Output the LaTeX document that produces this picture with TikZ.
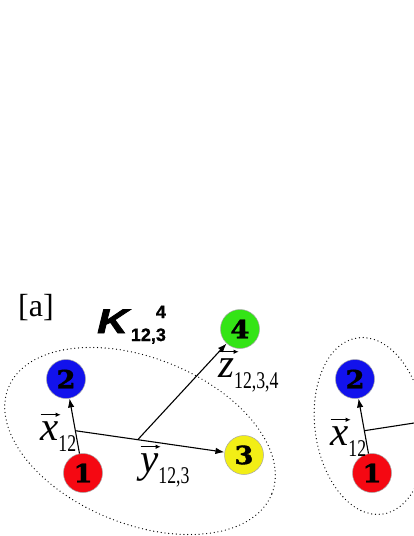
\documentclass[tikz,border=0pt]{standalone}
\usepackage{fontspec}
\usepackage{graphicx}
\usetikzlibrary{arrows.meta,calc}
\setmainfont{Liberation Serif}
\newfontfamily\mainf{Liberation Serif}
\newfontfamily\subf{Liberation Serif}[FakeStretch=0.74]
\newfontfamily\kfont{Liberation Sans}[
  BoldItalicFeatures={FakeStretch=1.25,FakeBold=2.5}]
\newfontfamily\ksub{Liberation Sans}[BoldFeatures={FakeBold=1}]
\newfontfamily\numf{DejaVu Serif}[BoldFeatures={FakeBold=1.5,FakeStretch=1.1}]
\definecolor{cred}{RGB}{245,8,18}
\definecolor{cblue}{RGB}{18,18,236}
\definecolor{cyellow}{RGB}{242,238,22}
\definecolor{cgreen}{RGB}{52,228,22}
\newcommand\vlab[2]{\rlap{\raisebox{23pt}{\tikz\draw[-{Latex[length=5pt,width=4.5pt]},line width=0.9pt] (0pt,0pt) -- (20pt,0pt);}}{\mainf\fontsize{41}{41}\selectfont\itshape #1}\raisebox{-11pt}{\subf\fontsize{24}{24}\selectfont #2}}
\tikzset{
  ball/.style={circle, draw=gray!70, line width=0.5pt, minimum size=39pt, inner sep=0pt,
    font=\numf\bfseries\fontsize{25}{25}\selectfont},
  vec/.style={-{Latex[length=9pt,width=6.5pt]}, line width=1.1pt},
  plain/.style={line width=1.1pt},
  dotline/.style={line width=1.3pt, dash pattern=on 0pt off 3.8pt, line cap=round},
  lbl/.style={anchor=base west, inner sep=0pt}
}
\begin{document}
\begin{tikzpicture}[x=1pt,y=-1pt]
\useasboundingbox (0,0) rectangle (414,536);
% panel a
\coordinate (ec) at (140,441);
\draw[dotline, rotate around={-22:(ec)}] (ec) ellipse [x radius=142, y radius=83];
\node[ball, fill=cblue] (n2) at (66,379) {2};
\node[ball, fill=cred] (n1) at (83,473) {1};
\node[ball, fill=cyellow] (n3) at (244,455) {3};
\node[ball, fill=cgreen] (n4) at (240,329) {4};
\draw[vec] (n1) -- (n2);
\coordinate (j1) at ($(n1)!0.45!(n2)$);
\draw[vec] (j1) -- (n3);
\coordinate (j2) at ($(j1)!0.37!(n3)$);
\draw[vec] (j2) -- (n4);
\node[lbl] (la) at (18,316) {\fontsize{32}{32}\selectfont [a]};
\node[lbl] (kl) at (97,333) {\fontsize{34}{34}\selectfont\kfont\bfseries\itshape K\hspace{3pt}\raisebox{-8pt}{\ksub\bfseries\upshape\fontsize{18}{18}\selectfont 12,3}\llap{\raisebox{15pt}{\ksub\bfseries\upshape\fontsize{18}{18}\selectfont 4}}};
\node[lbl] (lx) at (40,440) {\vlab{x}{12}};
\node[lbl] (ly) at (140,472) {\vlab{y}{12,3}};
\node[lbl] (lz) at (218,377) {\vlab{z}{12,3,4}};
% panel b (cut)
\coordinate (ec2) at (370,426);
\draw[dotline, rotate around={8:(ec2)}] (ec2) ellipse [x radius=55, y radius=89];
\node[ball, fill=cblue] (m2) at (355,379) {2};
\node[ball, fill=cred] (m1) at (372,473) {1};
\draw[vec] (m1) -- (m2);
\coordinate (k1) at ($(m1)!0.45!(m2)$);
\coordinate (k2) at (440,419);
\draw[plain] (k1) -- (k2);
\node[lbl] (mx) at (330,445) {\vlab{x}{12}};
\end{tikzpicture}
\end{document}
